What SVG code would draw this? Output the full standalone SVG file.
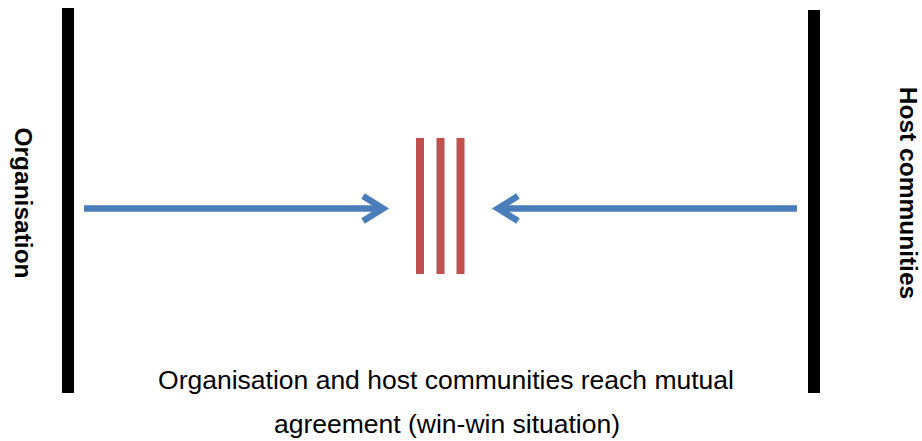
<svg xmlns="http://www.w3.org/2000/svg" width="922" height="441" viewBox="0 0 922 441">
<style>
.bar{fill:#000}
.red{fill:#C0504D}
.arr{stroke:#4A7EBB;stroke-width:6.5;fill:none}
.side{font-family:"Liberation Sans",Arial,sans-serif;font-weight:bold;font-size:24.5px;fill:#000;text-anchor:middle}
.cap{font-family:"Liberation Sans",Arial,sans-serif;font-size:26.5px;fill:#000;text-anchor:middle}
</style>
<rect width="922" height="441" fill="#fff"/>
<g id="organisation">
<rect class="bar" x="62" y="8" width="12" height="385"/>
<text class="side" transform="translate(15,203) rotate(90)">Organisation</text>
</g>
<g id="host-communities">
<rect class="bar" x="808" y="10" width="12" height="383"/>
<text class="side" transform="translate(900,193) rotate(90)">Host communities</text>
</g>
<g id="agreement">
<rect class="red" x="416" y="138" width="8" height="136"/>
<rect class="red" x="436.5" y="138" width="8" height="136"/>
<rect class="red" x="456.5" y="138" width="8" height="136"/>
</g>
<g id="connectors">
<path class="arr" d="M84,208.5 H382"/>
<path class="arr" d="M363,196 L383,208.5 L363,221"/>
<path class="arr" d="M797,208.5 H499"/>
<path class="arr" d="M518,196 L498,208.5 L518,221"/>
</g>
<g id="caption">
<text class="cap" x="446" y="389">Organisation and host communities reach mutual</text>
<text class="cap" x="447" y="433">agreement (win-win situation)</text>
</g>
</svg>
